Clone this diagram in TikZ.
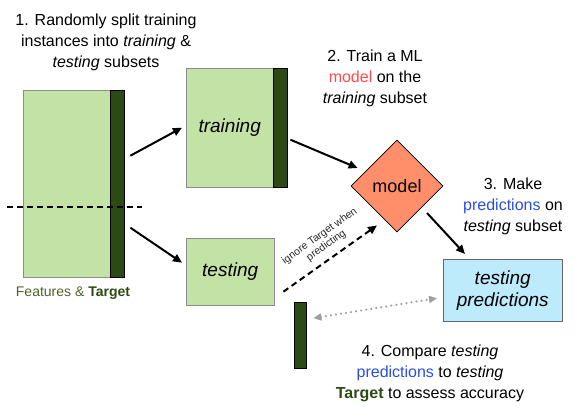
\documentclass[tikz,border=0pt]{standalone}
\usepackage{fontspec}
\setmainfont{Liberation Sans}
\usetikzlibrary{shapes.geometric,arrows.meta}
\definecolor{featgreen}{HTML}{C3E2A5}
\definecolor{targetgreen}{HTML}{2D4A14}
\definecolor{feattext}{HTML}{4F6228}
\definecolor{modelorange}{HTML}{FF8F6B}
\definecolor{modelred}{HTML}{FF4B4B}
\definecolor{predblue}{HTML}{BDEBFB}
\definecolor{predtext}{HTML}{2A4FE0}
\begin{document}
\begin{tikzpicture}[x=1pt,y=-1pt,
    subset/.style={draw=black!45,fill=featgreen,inner sep=0pt,anchor=north west},
    targetbar/.style={draw=black,fill=targetgreen,inner sep=0pt,anchor=north west,minimum width=14pt},
    steptext/.style={align=center,font=\fontsize{16}{21}\selectfont},
    boxtext/.style={font=\fontsize{19}{22}\selectfont\itshape},
    arr/.style={line width=2pt,-{Triangle[length=9pt,width=8pt]}}]
                \useasboundingbox (0,0) rectangle (575,412);
                % data blocks
                \node[subset,minimum width=87pt,minimum height=187pt] (full) at (23,90) {};
                \node[targetbar,minimum height=187pt] (fullT) at (110,90) {};
                \node[subset,minimum width=87pt,minimum height=119pt,boxtext] (train) at (186,68) {training};
                \node[targetbar,minimum height=119pt] (trainT) at (273,68) {};
                \node[subset,minimum width=88pt,minimum height=67pt,boxtext] (test) at (186,238) {testing};
                \node[targetbar,minimum width=12pt,minimum height=66pt] (testT) at (294,302) {};
                \node[diamond,draw=black,thick,fill=modelorange,minimum width=92pt,minimum height=92pt,inner sep=0pt,font=\fontsize{18}{20}\selectfont] (model) at (397,186) {model};
                \node[draw=black!60,fill=predblue,minimum width=119pt,minimum height=62pt,anchor=north west,align=center,boxtext] (pred) at (443,259) {testing\\predictions};
                \coordinate (cutL) at (7,207);
                \coordinate (cutR) at (142,207);
                \draw[line width=2pt,dash pattern=on 6pt off 4pt] (cutL) -- (cutR);
                % arrows
                \draw[arr] ([shift={(6,-28)}]fullT.east) -- ([shift={(-4,0)}]train.west);
                \draw[arr] ([shift={(6,44)}]fullT.east) -- ([shift={(-4,-9)}]test.west);
                \draw[arr] ([shift={(3,12)}]trainT.east) -- ([shift={(7,-18)}]model.west);
                \draw[arr] ([shift={(30,27)}]model.center) -- ([shift={(22,-5)}]pred.north west);
                \draw[arr,dash pattern=on 6pt off 4pt] ([shift={(9,20)}]test.east) -- ([shift={(-20,-7)}]model.south);
                \draw[gray!75,line width=2.3pt,line cap=round,dash pattern=on 0.1pt off 5pt,{Triangle[length=8pt,width=7pt]}-{Triangle[length=8pt,width=7pt]}] ([shift={(7,-17)}]testT.east) -- ([shift={(-6,8)}]pred.west);
                \node[rotate=35.5,font=\fontsize{10.5}{11.5}\selectfont,align=center,inner sep=0pt,text=black!85] (ignore) at (323,241) {ignore Target when\\predicting};
                % step texts
                \node[steptext] (step1) at (106,42) {1. Randomly split training\\instances into \textit{training} \&\\\textit{testing} subsets};
                \node[steptext] (step2) at (375,78) {2. Train a ML\\\textcolor{modelred}{model} on the\\\textit{training} subset};
                \node[steptext] (step3) at (513,206) {3. Make\\\textcolor{predtext}{predictions} on\\\textit{testing} subset};
                \node[steptext] (step4) at (430,373) {4. Compare \textit{testing}\\\textcolor{predtext}{predictions} to \textit{testing}\\\textbf{\textcolor{targetgreen}{Target}} to assess accuracy};
                \node[font=\fontsize{14}{16}\selectfont] (label) at (73,293) {\textcolor{feattext}{Features \&} \textbf{\textcolor{targetgreen}{Target}}};
                \end{tikzpicture}
\end{document}
